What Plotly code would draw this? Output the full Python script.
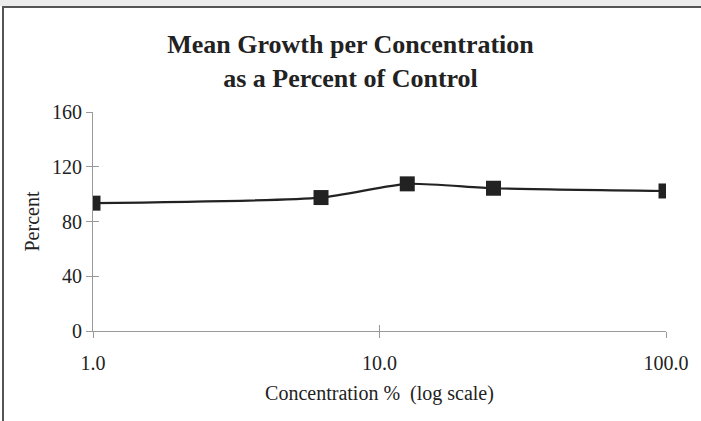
import plotly.graph_objects as go

concentration = [1.0, 6.25, 12.5, 25.0, 100.0]
percent = [93.4, 97.5, 107.5, 104.3, 102.3]
y_ticks = [0, 40, 80, 120, 160]
x_ticks = [1, 10, 100]
x_tick_labels = ["1.0", "10.0", "100.0"]

font_family = "Liberation Serif, Times New Roman, serif"
ink = "#222222"
axis_col = "#9a9a9a"

fig = go.Figure()
fig.add_trace(go.Scatter(
    x=concentration, y=percent, mode="lines+markers",
    line=dict(color=ink, width=2.2, shape="spline", smoothing=0.6),
    marker=dict(symbol="square", size=15, color=ink),
    showlegend=False, xaxis="x", yaxis="y",
))
fig.add_trace(go.Scatter(x=[concentration[0]], y=[percent[0]], mode="markers",
                         marker=dict(opacity=0), showlegend=False, hoverinfo="skip",
                         xaxis="x2", yaxis="y2"))

fig.update_layout(
    width=701, height=421,
    margin=dict(l=93, r=35, t=112, b=90),
    paper_bgcolor="white", plot_bgcolor="white",
    font=dict(family=font_family, color=ink, size=20),
    title=dict(
        text="<b>Mean Growth per Concentration<br>as a Percent of Control</b>",
        x=0.5, xanchor="center", y=0.874, yanchor="top",
        font=dict(size=26, family=font_family, color=ink),
    ),
    xaxis=dict(
        type="log", range=[0, 2], tickvals=x_ticks, ticktext=x_tick_labels,
        showgrid=False, zeroline=False, showline=True, linecolor=axis_col, linewidth=1,
        ticks="outside", ticklen=6, tickcolor=axis_col, tickfont=dict(size=20),
        ticklabelstandoff=8,
        title=dict(text="Concentration %  (log scale)", font=dict(size=20), standoff=12),
    ),
    yaxis=dict(
        range=[0, 160], tickvals=y_ticks,
        showgrid=False, zeroline=False, showline=True, linecolor=axis_col, linewidth=1,
        ticks="outside", ticklen=6, tickcolor=axis_col, tickfont=dict(size=20),
        title=dict(text="Percent", font=dict(size=20), standoff=7),
    ),
    xaxis2=dict(type="log", range=[0, 2], overlaying="x", tickvals=x_ticks,
                showticklabels=False, showgrid=False, zeroline=False,
                ticks="inside", ticklen=6, tickcolor=axis_col, side="bottom"),
    yaxis2=dict(range=[0, 160], overlaying="y", tickvals=y_ticks,
                showticklabels=False, showgrid=False, zeroline=False,
                ticks="inside", ticklen=6, tickcolor=axis_col, side="left"),
)

px0 = (3 - 93) / 573
px1 = (701 - 93) / 573
py_top = (331 - 7) / 219
py_bot = (331 - 421) / 219
fig.add_shape(type="rect", xref="paper", yref="paper",
              x0=(0 - 93) / 573, x1=px1,
              y0=(331 - 6) / 219, y1=(331 - 0) / 219,
              line=dict(width=0), fillcolor="#ececec", layer="below")
fig.add_shape(type="path", xref="paper", yref="paper",
              path=f"M {px0},{py_bot} L {px0},{py_top} L {px1},{py_top}",
              line=dict(color="#555555", width=2))

fig.write_html("out.html", config={"displayModeBar": False},
               post_script="document.body.style.margin='0';document.body.style.overflow='hidden';")
